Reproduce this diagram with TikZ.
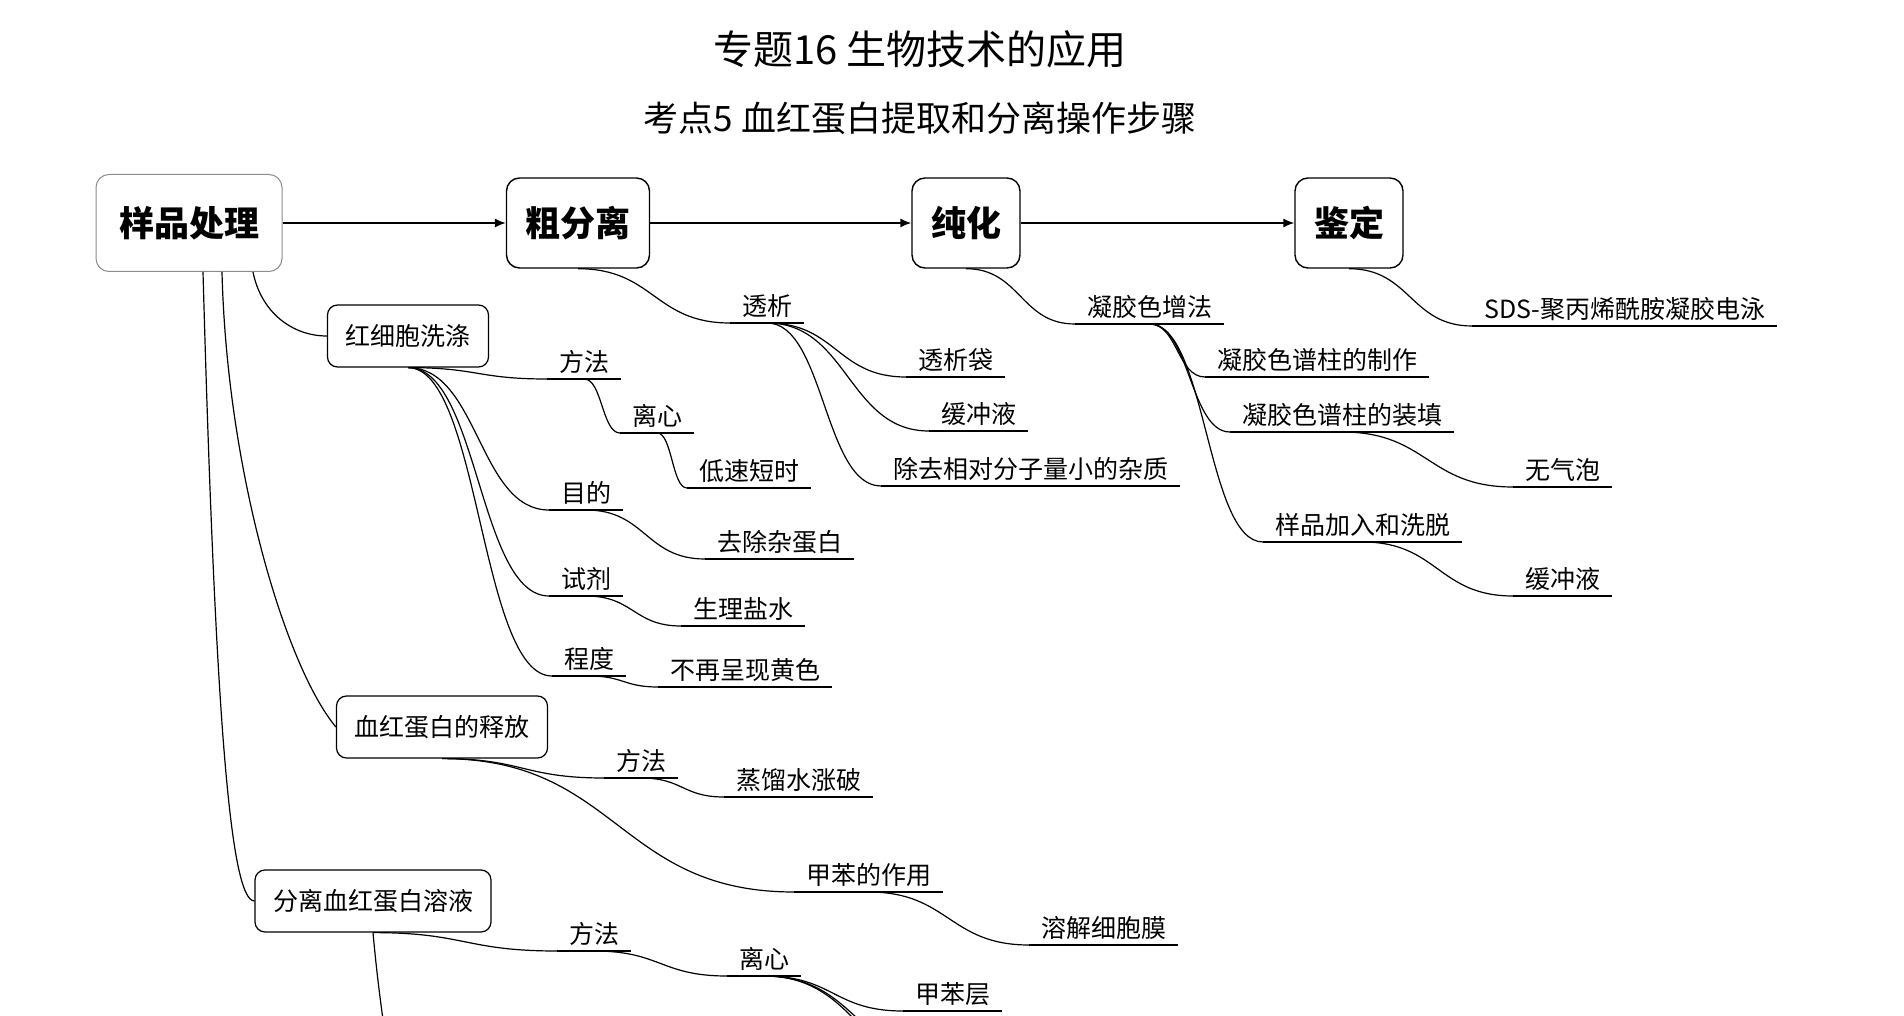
\documentclass[tikz,border=0pt]{standalone}
\usepackage{fontspec}
\setmainfont{Noto Sans CJK SC}
\usetikzlibrary{arrows.meta,calc}

\begin{document}
\begin{tikzpicture}[x=1pt, y=-1pt,
    every node/.style={font=\fontsize{25}{30}\selectfont},
    main/.style={draw, rounded corners=13pt, line width=1.4pt, inner xsep=19pt, minimum height=90pt, font=\fontsize{35}{40}\selectfont\bfseries},
    sub/.style={draw, rounded corners=10pt, line width=1.2pt, inner xsep=18pt, minimum height=62pt},
    lbl/.style={inner xsep=12pt, inner ysep=5pt, anchor=south west},
    wire/.style={line width=1.2pt},
    link/.style={wire, to path={.. controls ($(\tikztostart)!0.5!(\tikztotarget|-\tikztostart)$) and ($(\tikztotarget)!0.5!(\tikztostart|-\tikztotarget)$) .. (\tikztotarget)}},
    flow/.style={line width=1.4pt, -{Latex[length=11pt,width=9pt]}}]
  \useasboundingbox (0,0) rectangle (1904,1016);
  \clip (0,0) rectangle (1904,1016);

  % titles
  \node[font=\fontsize{40}{46}\selectfont] (title) at (920,49) {专题16 生物技术的应用};
  \node[font=\fontsize{35}{40}\selectfont] (subtitle) at (920,118) {考点5 血红蛋白提取和分离操作步骤};

  % main steps
  \node[main, minimum width=186pt, minimum height=97pt, draw=black!45, line width=1pt] (root) at (189,223) {样品处理};
  \node[main] (crude) at (578,223) {粗分离};
  \node[main] (pure) at (966,223) {纯化};
  \node[main] (ident) at (1349,223) {鉴定};

  \draw[flow] (root) -- (crude);
  \draw[flow] (crude) -- (pure);
  \draw[flow] (pure) -- (ident);

  % sample treatment
  \node[sub] (rbc) at (408,336) {红细胞洗涤};
  \node[sub] (rel) at (442,727) {血红蛋白的释放};
  \node[sub] (sep) at (373,901) {分离血红蛋白溶液};

  \draw[wire] ([xshift=64pt]root.south) .. controls +(8,40) and +(-35,0) .. (rbc.west);
  \draw[wire] ([xshift=33pt]root.south) .. controls +(5,200) and +(-50,-60) .. (rel.west);
  \draw[wire] ([xshift=14pt]root.south) .. controls +(12,430) and +(-25,0) .. (sep.west);

  \node[lbl] (wm) at (547,379) {方法};
  \node[lbl] (wc) at (620,433) {离心};
  \node[lbl] (wslow) at (687,488) {低速短时};
  \node[lbl] (wg) at (549,510) {目的};
  \node[lbl] (wgoal) at (705,559) {去除杂蛋白};
  \node[lbl] (wr) at (549,596) {试剂};
  \node[lbl] (wsal) at (681,626) {生理盐水};
  \node[lbl] (wd) at (552,676) {程度};
  \node[lbl] (wyel) at (658,687) {不再呈现黄色};

  \node[lbl] (rm) at (604,778) {方法};
  \node[lbl] (rwat) at (724,797) {蒸馏水涨破};
  \node[lbl] (rtol) at (794,892) {甲苯的作用};
  \node[lbl] (rmem) at (1029,945) {溶解细胞膜};

  \node[lbl] (sm) at (557,951) {方法};
  \node[lbl] (sc) at (727,976) {离心};
  \node[lbl] (slay) at (903,1011) {甲苯层};

  % crude separation
  \node[lbl] (dia) at (730,323) {透析};
  \node[lbl] (bag) at (906,377) {透析袋};
  \node[lbl] (buf) at (929,431) {缓冲液};
  \node[lbl] (small) at (881,486) {除去相对分子量小的杂质};

  % purification
  \node[lbl] (gel) at (1075,324) {凝胶色增法};
  \node[lbl] (make) at (1205,377) {凝胶色谱柱的制作};
  \node[lbl] (pack) at (1230,432) {凝胶色谱柱的装填};
  \node[lbl] (bubble) at (1513,487) {无气泡};
  \node[lbl] (load) at (1263,542) {样品加入和洗脱};
  \node[lbl] (buf2) at (1513,596) {缓冲液};

  % identification
  \node[lbl] (sds) at (1472,326) {SDS-聚丙烯酰胺凝胶电泳};

  \foreach \n in {wm,wc,wslow,wg,wgoal,wr,wsal,wd,wyel,rm,rwat,rtol,rmem,sm,sc,slay,
                  dia,bag,buf,small,gel,make,pack,bubble,load,buf2,sds}
    \draw[wire] (\n.south west) -- (\n.south east);

  \foreach \a/\b in {rbc/wm,wm/wc,wc/wslow,rbc/wg,wg/wgoal,rbc/wr,wr/wsal,rbc/wd,wd/wyel,
                     rel/rm,rm/rwat,rel/rtol,rtol/rmem,sep/sm,sm/sc,sc/slay,
                     crude/dia,dia/bag,dia/buf,dia/small,pure/gel,gel/make,gel/pack,
                     pack/bubble,gel/load,load/buf2,ident/sds}
    \draw[link] (\a.south) to (\b.south west);

  % branches running off the page
  \coordinate (offA) at (400,1150);
  \coordinate (offB) at (955,1065);
  \coordinate (offC) at (965,1085);
  \draw[wire] (sep.south) .. controls +(8,90) and +(-5,-60) .. (offA);
  \draw[link] (sc.south) to (offB);
  \draw[link] (sc.south) to (offC);
\end{tikzpicture}
\end{document}
